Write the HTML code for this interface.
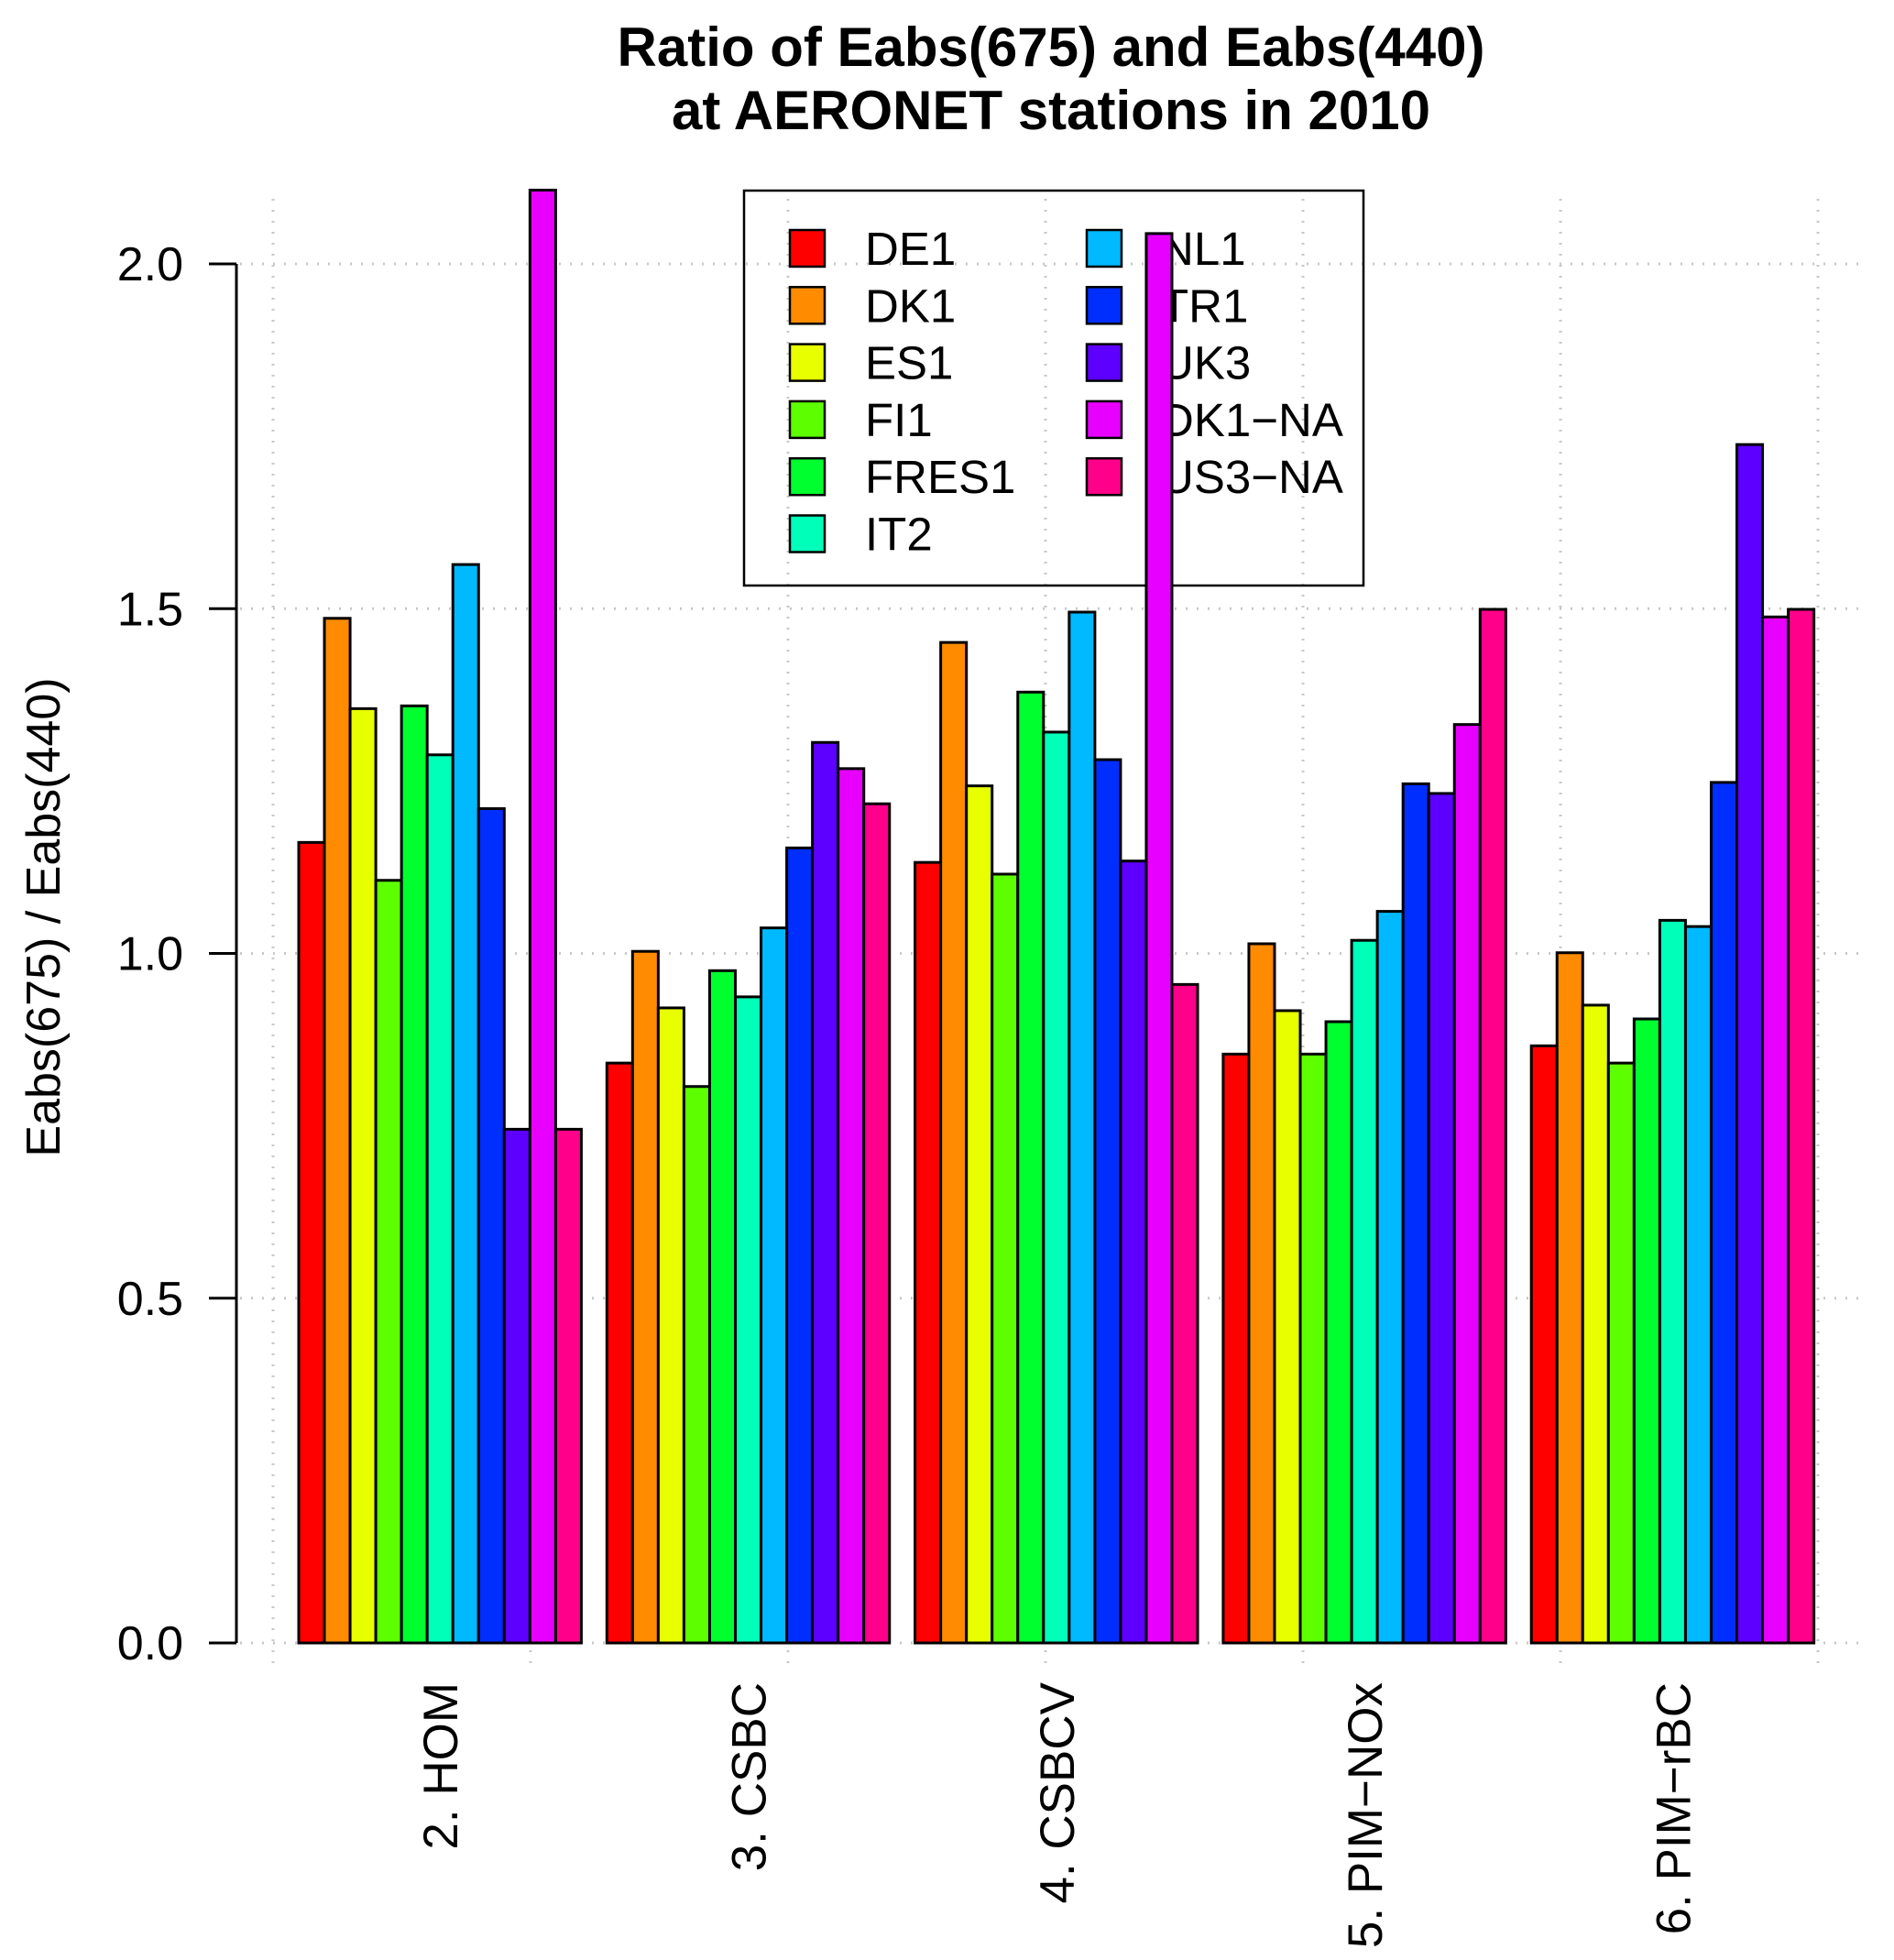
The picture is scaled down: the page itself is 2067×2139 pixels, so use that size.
<!DOCTYPE html>
<html><head><meta charset="utf-8"><style>
html,body{margin:0;padding:0;background:#fff;}
svg{display:block;font-family:"Liberation Sans",Arial,sans-serif;}
</style></head><body>
<svg id="chart" width="2067" height="2139" viewBox="0 0 2067 2139" xmlns="http://www.w3.org/2000/svg">
<text x="1147" y="72" font-size="60" font-weight="bold" text-anchor="middle">Ratio of Eabs(675) and Eabs(440)</text>
<text x="1147" y="141" font-size="60" font-weight="bold" text-anchor="middle">at AERONET stations in 2010</text>
<text x="0" y="0" font-size="52" text-anchor="middle" transform="translate(65,1001) rotate(-90)">Eabs(675) / Eabs(440)</text>
<g id="grid"></g>
<g id="legend"></g>
<g id="bars"></g>
<g id="axis"></g>
<g id="xlabels"></g>
</svg>
<script>
const categories = ["2. HOM","3. CSBC","4. CSBCV","5. PIM\u2212NOx","6. PIM\u2212rBC"];
const stations = ["DE1","DK1","ES1","FI1","FRES1","IT2","NL1","TR1","UK3","DK1\u2212NA","US3\u2212NA"];
const colors = ["#FF0000","#FF8B00","#E8FF00","#5DFF00","#00FF2E","#00FFB9","#00B9FF","#002EFF","#5D00FF","#E800FF","#FF008B"];
const valuesHOM = [1.161,1.486,1.355,1.106,1.359,1.288,1.564,1.210,0.745,2.107,0.745];
const valuesCSBC = [0.841,1.003,0.921,0.807,0.975,0.937,1.037,1.153,1.306,1.268,1.217];
const valuesCSBCV = [1.132,1.451,1.243,1.115,1.379,1.321,1.495,1.281,1.134,2.044,0.955];
const valuesPIMNOx = [0.854,1.014,0.917,0.854,0.901,1.019,1.061,1.246,1.232,1.332,1.499];
const valuesPIMrBC = [0.866,1.001,0.925,0.841,0.905,1.048,1.039,1.248,1.738,1.488,1.499];
const yTicks = [0,0.5,1.0,1.5,2.0];
const yTickLabels = ["0.0","0.5","1.0","1.5","2.0"];
const series = [valuesHOM,valuesCSBC,valuesCSBCV,valuesPIMNOx,valuesPIMrBC];

const NS="http://www.w3.org/2000/svg";
const Y0=1793, UNIT=752.5;
function y(v){return Y0-v*UNIT;}
const BW=28.04, GSTEP=336.3, X0=326;
function xBar(g,i){return X0+g*GSTEP+i*BW;}
function mk(tag,attrs,parent){const e=document.createElementNS(NS,tag);for(const k in attrs)e.setAttribute(k,attrs[k]);parent.appendChild(e);return e;}

const grid=document.getElementById('grid');
for(let k=0;k<7;k++){
  const gx=298+k*281;
  const l=mk('line',{x1:gx,x2:gx,y1:217,y2:1815,stroke:'#c8c8c8','stroke-width':3,'stroke-dasharray':'2 10'},grid);
  
  
}
yTicks.forEach(t=>{
  const l=mk('line',{x1:262,x2:2036,y1:y(t),y2:y(t),stroke:'#c8c8c8','stroke-width':3,'stroke-dasharray':'2 10'},grid);
  
  
});

const lg=document.getElementById('legend');
const box=mk('rect',{x:812,y:208,width:676,height:431,fill:'none',stroke:'#000','stroke-width':2.5},lg);


stations.forEach((s,i)=>{
  const col=i<6?0:1, row=i<6?i:i-6;
  const sx=col?1186:862, tx=col?1266:944, cy=271+row*62.3;
  const g=mk('g',{},lg);
  
  
  mk('rect',{x:sx,y:cy-20,width:38,height:40,fill:colors[i],stroke:'#000','stroke-width':2.5},g);
  const t=mk('text',{x:tx,y:cy+18,'font-size':51},g);
  t.textContent=s;
});

const bars=document.getElementById('bars');
series.forEach((vals,g)=>{
  vals.forEach((v,i)=>{
    const r=mk('rect',{x:xBar(g,i),y:y(v),width:BW,height:Y0-y(v),fill:colors[i],stroke:'#000','stroke-width':3},bars);
    
    
  });
});

const ax=document.getElementById('axis');
mk('line',{x1:258,x2:258,y1:y(2),y2:y(0),stroke:'#000','stroke-width':3},ax);
yTicks.forEach((t,k)=>{
  mk('line',{x1:228,x2:258,y1:y(t),y2:y(t),stroke:'#000','stroke-width':3},ax);
  const tx=mk('text',{x:200,y:y(t)+18,'font-size':52,'text-anchor':'end'},ax);
  
  
  tx.textContent=yTickLabels[k];
});

const xl=document.getElementById('xlabels');
categories.forEach((c,g)=>{
  const cx=xBar(g,5.5);
  const t=mk('text',{x:0,y:0,'font-size':53,'text-anchor':'end',transform:`translate(${cx+19},1836) rotate(-90)`},xl);
  
  
  t.textContent=c;
});
</script>
</body></html>
